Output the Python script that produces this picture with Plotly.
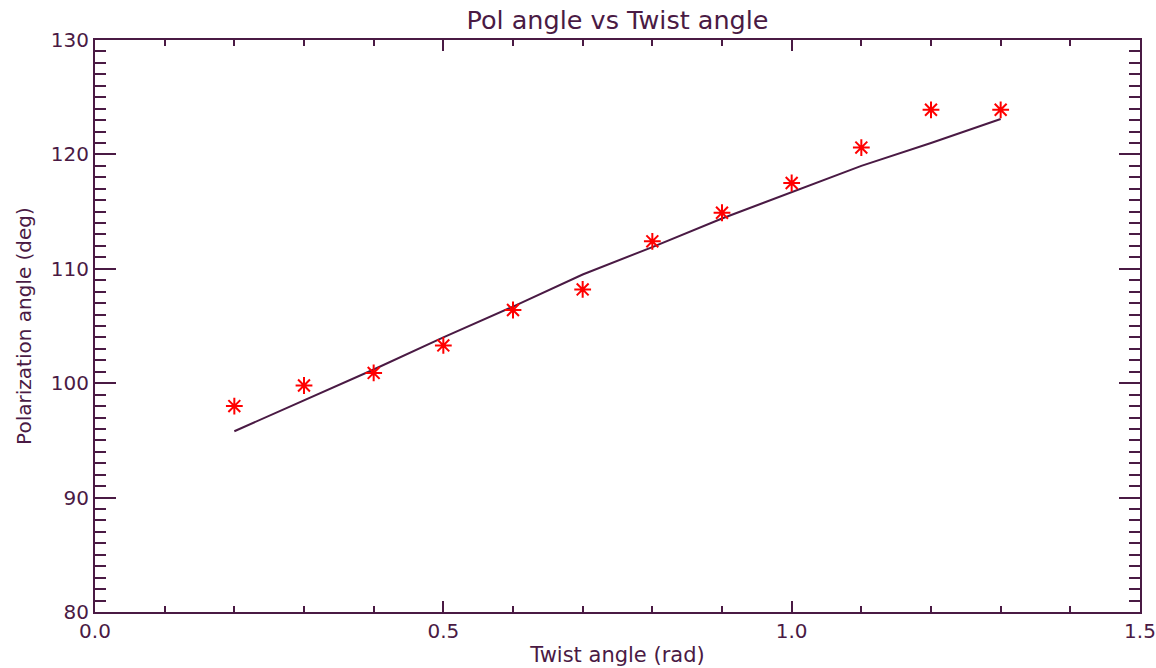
import plotly.graph_objects as go

# Measured polarization angle at each twist angle
twist_rad = [0.2, 0.3, 0.4, 0.5, 0.6, 0.7, 0.8, 0.9, 1.0, 1.1, 1.2, 1.3]
pol_deg = [98.0, 99.8, 100.9, 103.3, 106.4, 108.2, 112.4, 114.9, 117.5, 120.6, 123.9, 123.9]

# Model curve evaluated at the same twist angles
model_deg = [95.8, 98.5, 101.2, 104.0, 106.7, 109.5, 111.9, 114.4, 116.7, 119.0, 121.0, 123.1]

x_ticks = [0.0, 0.5, 1.0, 1.5]
y_ticks = [80, 90, 100, 110, 120, 130]

INK = "#4A1A44"
FONT = "DejaVu Sans"

fig = go.Figure()

fig.add_trace(go.Scatter(
    x=twist_rad, y=model_deg, mode="lines",
    line=dict(color=INK, width=2),
    showlegend=False,
))

fig.add_trace(go.Scatter(
    x=twist_rad, y=pol_deg, mode="markers",
    marker=dict(symbol="asterisk-open", size=14, color="red",
                line=dict(color="red", width=2)),
    showlegend=False,
))

fig.update_layout(
    width=1156, height=668,
    margin=dict(l=95, r=16, t=40, b=56),
    paper_bgcolor="white", plot_bgcolor="white",
    font=dict(family=FONT, color=INK, size=20),
    title=dict(text="Pol angle vs Twist angle", x=0.5, xref="paper",
               y=1 - 20 / 668, yref="container", yanchor="middle",
               xanchor="center", font=dict(size=25.5, color=INK)),
)

fig.update_xaxes(
    range=[0, 1.5], tickvals=x_ticks, tickformat=".1f",
    showgrid=False, zeroline=False,
    showline=True, linecolor=INK, linewidth=2, mirror="allticks",
    ticks="inside", ticklen=11, tickwidth=2, tickcolor=INK,
    minor=dict(ticks="inside", dtick=0.1, ticklen=6, tickwidth=2, tickcolor=INK, showgrid=False),
    tickfont=dict(size=20, color=INK),
    title=dict(text="Twist angle (rad)", font=dict(size=21, color=INK), standoff=5),
    automargin=False,
)

fig.update_yaxes(
    range=[80, 130], tickvals=y_ticks,
    showgrid=False, zeroline=False,
    showline=True, linecolor=INK, linewidth=2, mirror="allticks",
    ticks="inside", ticklen=21, tickwidth=2, tickcolor=INK,
    minor=dict(ticks="inside", dtick=1, ticklen=11, tickwidth=2, tickcolor=INK, showgrid=False),
    tickfont=dict(size=20, color=INK),
    title=dict(text="Polarization angle (deg)", font=dict(size=20, color=INK), standoff=14),
    automargin=False,
)

fig.write_html("out.html")
